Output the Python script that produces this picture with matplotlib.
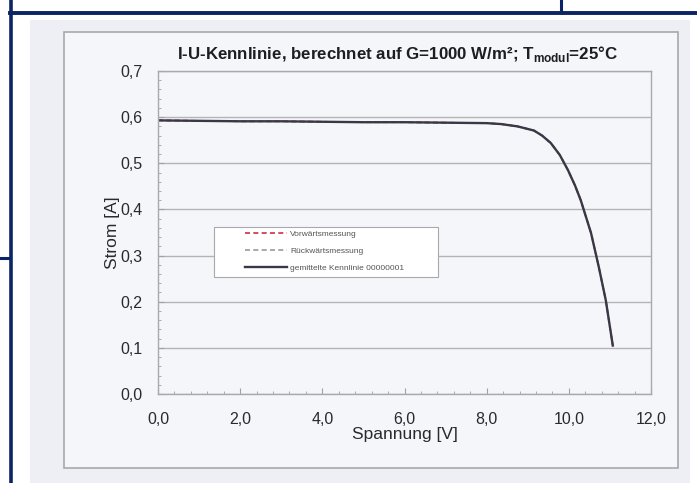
import matplotlib.pyplot as plt
from matplotlib.ticker import MultipleLocator
from matplotlib.patches import Rectangle

plt.rcParams["font.family"] = ["Liberation Sans", "DejaVu Sans"]

U = [0.0, 1.0, 2.0, 3.0, 4.0, 5.0, 6.0, 7.0, 8.0, 8.35, 8.75, 9.15, 9.35, 9.56,
     9.78, 9.98, 10.15, 10.29, 10.54, 10.73, 10.90, 11.07]
I_mittel = [0.593, 0.592, 0.591, 0.591, 0.590, 0.589, 0.589, 0.588, 0.587,
            0.585, 0.580, 0.571, 0.560, 0.544, 0.518, 0.485, 0.452, 0.420,
            0.349, 0.275, 0.203, 0.105]
I_vor = I_mittel
I_rueck = I_mittel

titel = "I-U-Kennlinie, berechnet auf G=1000 W/m²; T$_{\\mathregular{modul}}$=25°C"
labels = ["Vorwärtsmessung", "Rückwärtsmessung", "gemittelte Kennlinie 00000001"]

W, H = 697, 483
fig = plt.figure(figsize=(W / 100, H / 100), dpi=100)
fig.patch.set_facecolor("white")

# Hintergrund: Scan und Rahmen, in Pixelkoordinaten
bg = fig.add_axes([0, 0, 1, 1], zorder=-1)
bg.set_xlim(0, W)
bg.set_ylim(H, 0)
bg.axis("off")
bg.add_patch(Rectangle((30, 20), 660, 463, facecolor="#edeff4", edgecolor="none"))
bg.add_patch(Rectangle((64, 32), 614, 436, facecolor="#f5f6fa", edgecolor="#a8a8ad", lw=1.2))
navy = "#0b2466"
bg.plot([10.5, 10.5], [0, H], color=navy, lw=2.6)
bg.plot([10, W], [12.5, 12.5], color=navy, lw=2.8)
bg.plot([561, 561], [0, 12], color=navy, lw=2.2)
bg.plot([0, 10], [258, 258], color=navy, lw=2.2)

ax = fig.add_axes([158 / W, 1 - 394 / H, 493 / W, 323 / H])
ax.set_facecolor("#f5f6fa")

ax.plot(U, I_vor, color="#d0303a", lw=1.2, ls=(0, (3, 2)), label=labels[0])
ax.plot(U, I_rueck, color="#9a9a9a", lw=1.2, ls=(0, (3, 2)), label=labels[1])
ax.plot(U, I_mittel, color="#3a3846", lw=1.7, label=labels[2])

ax.set_xlim(0, 12)
ax.set_ylim(0, 0.7)
ax.xaxis.set_major_locator(MultipleLocator(2))
ax.xaxis.set_minor_locator(MultipleLocator(0.4))
ax.yaxis.set_major_locator(MultipleLocator(0.1))
ax.yaxis.set_minor_locator(MultipleLocator(0.02))
fmt = lambda v, p: ("%.1f" % v).replace(".", ",")
ax.xaxis.set_major_formatter(plt.FuncFormatter(fmt))
ax.yaxis.set_major_formatter(plt.FuncFormatter(fmt))
ax.tick_params(which="both", direction="in", color="#a0a0a5", labelsize=11.5, labelcolor="#2a2a2e")
ax.tick_params(which="major", length=4)
ax.tick_params(which="minor", length=2.5)
ax.tick_params(axis="x", pad=13)
ax.tick_params(axis="y", pad=11)
ax.grid(axis="y", which="major", color="#b4b4b8", lw=1.0)
for s in ax.spines.values():
    s.set_color("#a8a8ad")
    s.set_linewidth(1.0)

ax.set_xlabel("Spannung [V]", fontsize=12.5, color="#2a2a2e", labelpad=0)
ax.set_ylabel("Strom [A]", fontsize=12.5, color="#2a2a2e", labelpad=0)
ax.set_title(titel, fontsize=12.2, fontweight="bold", color="#1e1e22", pad=9, x=0.485)

# Legendenkasten
ax.add_patch(Rectangle(((214 - 158) / 493, (394 - 277) / 323), 224 / 493, 50 / 323,
                       transform=ax.transAxes, facecolor="white", edgecolor="#a8a8ad",
                       lw=0.8, zorder=4))
leg = ax.legend(loc="upper left", bbox_to_anchor=((245 - 158) / 493, (394 - 230) / 323),
                fontsize=6, frameon=False, handlelength=5.0, handletextpad=0.4,
                borderpad=0, labelspacing=1.1, borderaxespad=0)
leg.set_zorder(5)
for t in leg.get_texts():
    t.set_color("#555555")

fig.savefig("out.png", dpi=100)
